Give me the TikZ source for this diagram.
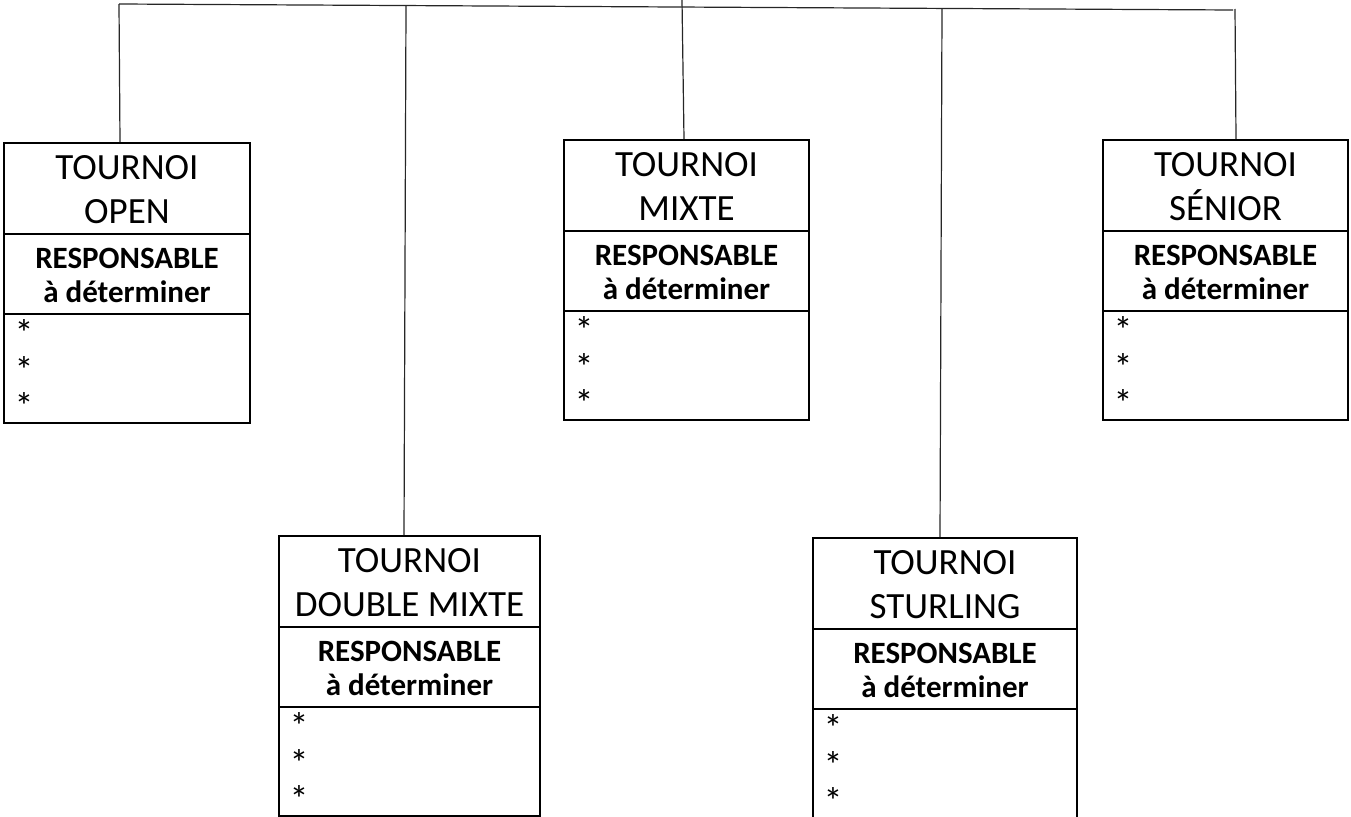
\documentclass[tikz,border=0pt]{standalone}
\usepackage{fontspec}
\setmainfont{Carlito}
\usetikzlibrary{calc}
\tikzset{
  boxst/.style={draw=black, line width=2pt, rectangle, inner sep=0pt, minimum height=280pt, anchor=north west},
  divst/.style={draw=black, line width=2pt},
  linkst/.style={draw=black!85, line width=1.2pt},
  titlest/.style={anchor=base, inner sep=0pt, font=\fontsize{37}{44}\selectfont},
  respst/.style={anchor=base, inner sep=0pt, font=\fontsize{31}{37}\selectfont\bfseries},
  starst/.style={anchor=base, inner sep=0pt, font=\fontsize{38}{44}\selectfont},
}
\newcommand{\tbox}[5]{%
  \node[boxst, minimum width=#4pt] (#1) at (#2,#3) {};
  \draw[divst] ($(#1.north west)+(0,92)$) -- ($(#1.north east)+(0,92)$);
  \draw[divst] ($(#1.north west)+(0,172)$) -- ($(#1.north east)+(0,172)$);
  \node[titlest] (#1-ta) at ($(#1.north)+(0,37)$) {TOURNOI};
  \node[titlest] (#1-tb) at ($(#1.north)+(0,81)$) {#5};
  \node[respst] (#1-ra) at ($(#1.north)+(0,126)$) {RESPONSABLE};
  \node[respst] (#1-rb) at ($(#1.north)+(0,160)$) {à déterminer};
  \node[starst] (#1-sa) at ($(#1.north west)+(21,204)$) {*};
  \node[starst] (#1-sb) at ($(#1.north west)+(21,241)$) {*};
  \node[starst] (#1-sc) at ($(#1.north west)+(21,277)$) {*};
}
\begin{document}
\begin{tikzpicture}[x=1pt, y=-1pt]
  \useasboundingbox (0,0) rectangle (1351,816);
  \tbox{open}{3}{142}{246}{OPEN}
  \tbox{dmixte}{278}{535}{261}{DOUBLE MIXTE}
  \tbox{mixte}{563}{139}{245}{MIXTE}
  \tbox{sturling}{812}{537}{264}{STURLING}
  \tbox{senior}{1102}{139}{245}{SÉNIOR}
  \coordinate (tL) at (119,4);
  \coordinate (tR) at (1233,10);
  \coordinate (t2) at (406,5.5);
  \coordinate (tM) at (682,0);
  \coordinate (t4) at (942,8.5);
  \coordinate (t5) at (1235,9);
  \draw[linkst] (tL) -- (tR);
  \draw[linkst] (tL) -- ([xshift=-7pt]open.north);
  \draw[linkst] (t2) -- ([xshift=-5.5pt]dmixte.north);
  \draw[linkst] (tM) -- ([xshift=-2.5pt]mixte.north);
  \draw[linkst] (t4) -- ([xshift=-5pt]sturling.north);
  \draw[linkst] (t5) -- ([xshift=10.5pt]senior.north);
\end{tikzpicture}
\end{document}
